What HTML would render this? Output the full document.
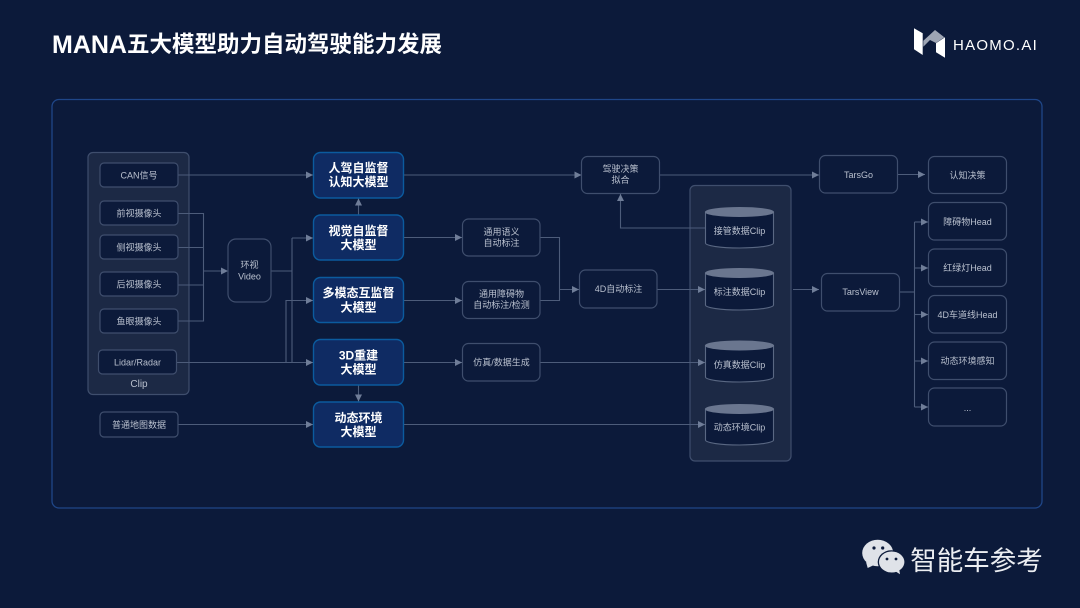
<!DOCTYPE html>
<html><head><meta charset="utf-8"><style>
html,body{margin:0;padding:0;background:#0c1a3a;width:1080px;height:608px;overflow:hidden}
svg{display:block}
text{font-family:"Liberation Sans","Noto Sans CJK SC",sans-serif;text-anchor:middle;fill:#b9c0ce;font-size:9px}
.b{fill:#0c1a3a;stroke:#3f4e6d;stroke-width:1.2}
.g{fill:#1c2945;stroke:#3f4e6d;stroke-width:1.2}
.c{fill:#0c1a3a;stroke:#5a6883;stroke-width:1.1}
.m{fill:#0f2b63;stroke:#0b5b9e;stroke-width:1.4}
.l{fill:none;stroke:#4d5c7a;stroke-width:1.1}
.t{fill:#fff;font-size:12px;font-weight:700}
.top{fill:#6a768f;stroke:#6a768f}
</style></head><body>
<svg width="1080" height="608" viewBox="0 0 1080 608" xmlns="http://www.w3.org/2000/svg">
<defs>
<marker id="a" markerUnits="userSpaceOnUse" markerWidth="8" markerHeight="8" refX="7" refY="3.500" orient="auto"><path d="M0 0L7 3.500L0 7Z" fill="#6f7d98"/></marker>
</defs>
<rect width="1080" height="608" fill="#0c1a3a"/>
<text x="52" y="53" style="text-anchor:start;font-size:25px;font-weight:700;fill:#fff">MANA</text>
<text x="127" y="52" style="text-anchor:start;font-size:22.500px;font-weight:700;fill:#fff">五大模型助力自动驾驶能力发展</text>
<polygon points="914,28.300 922.700,33.300 922.700,55 914,49.300" fill="#fff"/>
<polygon points="923.300,40.700 935,30 944.300,37.300 936,43 930,40 923.300,46.700" fill="#9ea5b4"/>
<polygon points="936,43.300 945,37.300 945,57.700 936,52.300" fill="#fff"/>
<text x="953" y="50" style="text-anchor:start;font-size:15px;fill:#fff;letter-spacing:1.250px">HAOMO.AI</text>

<rect x="52" y="99.500" width="990" height="408.500" rx="7" fill="#0c1a3a" stroke="#1f4688" stroke-width="1.300"/>

<rect class="g" x="88" y="152.500" width="101" height="242" rx="5"/>
<rect class="g" x="690" y="185.500" width="101" height="275.500" rx="5"/>

<!-- connectors -->
<path class="l" d="M178 175H313" marker-end="url(#a)"/>
<path class="l" d="M178 213.500H203.500V321H178M178 247.500H203.500M178 285H203.500"/>
<path class="l" d="M203.500 271H228" marker-end="url(#a)"/>
<path class="l" d="M271 271H292V362.500"/>
<path class="l" d="M292 238H313" marker-end="url(#a)"/>
<path class="l" d="M292 271V238"/>
<path class="l" d="M286 362.500V300.500H313" marker-end="url(#a)"/>
<path class="l" d="M177 362.500H313" marker-end="url(#a)"/>
<path class="l" d="M178 424.500H313" marker-end="url(#a)"/>
<path class="l" d="M358.500 215V198.500" marker-end="url(#a)"/>
<path class="l" d="M358.500 385V401.500" marker-end="url(#a)"/>
<path class="l" d="M403 175H581.500" marker-end="url(#a)"/>
<path class="l" d="M403 237.500H462" marker-end="url(#a)"/>
<path class="l" d="M403 300.500H462" marker-end="url(#a)"/>
<path class="l" d="M403 362.500H462" marker-end="url(#a)"/>
<path class="l" d="M403 424.500H705" marker-end="url(#a)"/>
<path class="l" d="M540 237.500H559.500V300.500H540"/>
<path class="l" d="M559.500 289.500H579" marker-end="url(#a)"/>
<path class="l" d="M657 289.500H705" marker-end="url(#a)"/>
<path class="l" d="M540 362.500H705" marker-end="url(#a)"/>
<path class="l" d="M659.500 175H819" marker-end="url(#a)"/>
<path class="l" d="M705 228H620.500V194" marker-end="url(#a)"/>
<path class="l" d="M897.500 174.500H925" marker-end="url(#a)"/>
<path class="l" d="M793 289.500H819" marker-end="url(#a)"/>
<path class="l" d="M899.500 292H914.500"/>
<path class="l" d="M914.500 222V407"/>
<path class="l" d="M914.500 222H928" marker-end="url(#a)"/>
<path class="l" d="M914.500 268H928" marker-end="url(#a)"/>
<path class="l" d="M914.500 314.500H928" marker-end="url(#a)"/>
<path class="l" d="M914.500 361H928" marker-end="url(#a)"/>
<path class="l" d="M914.500 407H928" marker-end="url(#a)"/>

<!-- left boxes -->
<rect class="b" x="100" y="163" width="78" height="24" rx="4"/><text x="139" y="178.500">CAN信号</text>
<rect class="b" x="100" y="201" width="78" height="24" rx="4"/><text x="139" y="216.500">前视摄像头</text>
<rect class="b" x="100" y="235" width="78" height="24" rx="4"/><text x="139" y="250.500">侧视摄像头</text>
<rect class="b" x="100" y="272" width="78" height="24" rx="4"/><text x="139" y="287.500">后视摄像头</text>
<rect class="b" x="100" y="309" width="78" height="24" rx="4"/><text x="139" y="324.500">鱼眼摄像头</text>
<rect class="b" x="98.500" y="350" width="78" height="24" rx="4"/><text x="137.500" y="365.500">Lidar/Radar</text>
<text x="139" y="387" style="font-size:10px">Clip</text>
<rect class="b" x="100" y="412" width="78" height="25" rx="4"/><text x="139" y="428">普通地图数据</text>
<rect class="b" x="228" y="239" width="43" height="63" rx="8"/><text x="249.500" y="268">环视</text><text x="249.500" y="279.500">Video</text>

<!-- models -->
<rect class="m" x="313.500" y="152.500" width="90" height="45.500" rx="7"/><text class="t" x="358.500" y="172">人驾自监督</text><text class="t" x="358.500" y="186">认知大模型</text>
<rect class="m" x="313.500" y="215" width="90" height="45" rx="7"/><text class="t" x="358.500" y="235">视觉自监督</text><text class="t" x="358.500" y="249">大模型</text>
<rect class="m" x="313.500" y="277.500" width="90" height="45" rx="7"/><text class="t" x="358.500" y="297">多模态互监督</text><text class="t" x="358.500" y="311.500">大模型</text>
<rect class="m" x="313.500" y="339.500" width="90" height="45.500" rx="7"/><text class="t" x="358.500" y="359.500">3D重建</text><text class="t" x="358.500" y="373.500">大模型</text>
<rect class="m" x="313.500" y="402" width="90" height="45" rx="7"/><text class="t" x="358.500" y="422">动态环境</text><text class="t" x="358.500" y="436">大模型</text>

<!-- middle -->
<rect class="b" x="581.500" y="156.500" width="78" height="37" rx="6"/><text x="620.500" y="172">驾驶决策</text><text x="620.500" y="183">拟合</text>
<rect class="b" x="462.500" y="219" width="77.500" height="37" rx="6"/><text x="501.500" y="235">通用语义</text><text x="501.500" y="246">自动标注</text>
<rect class="b" x="462.500" y="281.500" width="77.500" height="37" rx="6"/><text x="501.500" y="297">通用障碍物</text><text x="501.500" y="308">自动标注/检测</text>
<rect class="b" x="462.500" y="343.500" width="77.500" height="37.500" rx="6"/><text x="501.500" y="365.500">仿真/数据生成</text>
<rect class="b" x="579.500" y="270" width="77.500" height="38" rx="6"/><text x="618.500" y="292">4D自动标注</text>

<!-- cylinders -->
<g>
<path class="c" d="M705.500 212V243A34 5 0 0 0 773.500 243V212Z"/><ellipse class="top" cx="739.500" cy="212" rx="34" ry="4.500"/><text x="739.500" y="234">接管数据Clip</text>
<path class="c" d="M705.500 273V305A34 5 0 0 0 773.500 305V273Z"/><ellipse class="top" cx="739.500" cy="273" rx="34" ry="4.500"/><text x="739.500" y="295">标注数据Clip</text>
<path class="c" d="M705.500 345.500V377A34 5 0 0 0 773.500 377V345.500Z"/><ellipse class="top" cx="739.500" cy="345.500" rx="34" ry="4.500"/><text x="739.500" y="368">仿真数据Clip</text>
<path class="c" d="M705.500 409V440A34 5 0 0 0 773.500 440V409Z"/><ellipse class="top" cx="739.500" cy="409" rx="34" ry="4.500"/><text x="739.500" y="430.500">动态环境Clip</text>
</g>

<!-- right -->
<rect class="b" x="819.500" y="155.500" width="78" height="37.500" rx="6"/><text x="858.500" y="178">TarsGo</text>
<rect class="b" x="821.500" y="273.500" width="78" height="37.500" rx="6"/><text x="860.500" y="295">TarsView</text>
<rect class="b" x="928.500" y="156.500" width="78" height="37" rx="6"/><text x="967.500" y="178.500">认知决策</text>
<rect class="b" x="928.500" y="202.500" width="78" height="37.500" rx="6"/><text x="967.500" y="225">障碍物Head</text>
<rect class="b" x="928.500" y="249" width="78" height="37.500" rx="6"/><text x="967.500" y="271">红绿灯Head</text>
<rect class="b" x="928.500" y="295.500" width="78" height="37.500" rx="6"/><text x="967.500" y="318">4D车道线Head</text>
<rect class="b" x="928.500" y="342" width="78" height="37.500" rx="6"/><text x="967.500" y="364">动态环境感知</text>
<rect class="b" x="928.500" y="388" width="78" height="38" rx="6"/><text x="967.500" y="411">...</text>

<!-- wechat -->
<ellipse cx="877.700" cy="553" rx="15.500" ry="13.300" fill="#dfe2e8"/>
<polygon points="866,562 867.700,568 874,565" fill="#dfe2e8"/>
<ellipse cx="891.700" cy="562" rx="14" ry="11.800" fill="#0c1a3a"/>
<ellipse cx="891.700" cy="562" rx="12.700" ry="10.500" fill="#dfe2e8"/>
<polygon points="895,571 900,574.300 899,568" fill="#dfe2e8"/>
<circle cx="874" cy="548" r="1.600" fill="#0c1a3a"/><circle cx="882.700" cy="548" r="1.600" fill="#0c1a3a"/>
<circle cx="887" cy="559" r="1.400" fill="#0c1a3a"/><circle cx="896" cy="559" r="1.400" fill="#0c1a3a"/>
<text x="976.500" y="570" style="font-size:26.500px;fill:#eceef2">智能车参考</text>
</svg>
</body></html>
